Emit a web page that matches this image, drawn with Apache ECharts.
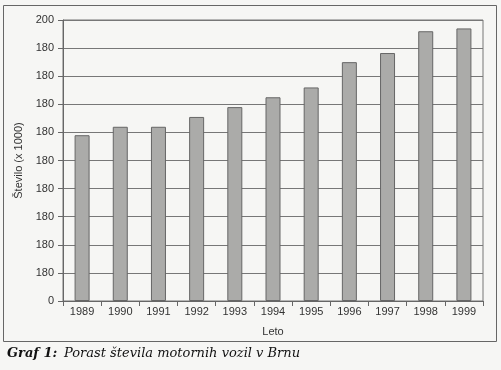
<!DOCTYPE html>
<html><head><meta charset="utf-8">
<script src="https://cdn.jsdelivr.net/npm/echarts@6/dist/echarts.min.js"></script>
<style>html,body{margin:0;padding:0;background:#f6f6f4;}#c{width:501px;height:370px;}</style>
</head><body><div id="c"></div>
<script>
var years = ['1989','1990','1991','1992','1993','1994','1995','1996','1997','1998','1999'];
var vehicles = [118, 124, 124, 131, 138, 145, 152, 170, 176.5, 192, 194];
var yTickLabels = ['0','180','180','180','180','180','180','180','180','180','200'];

var chart = echarts.init(document.getElementById('c'), null, {renderer:'canvas'});
chart.setOption({
  backgroundColor: '#f6f6f4',
  animation: false,
  graphic: [
    {type:'rect', shape:{x:3.5,y:5.5,width:493,height:336}, style:{fill:'none',stroke:'#666',lineWidth:1}, z:-1},
    {type:'text', left:7, top:347, style:{text:'Graf 1:', font:'italic bold 13px "DejaVu Serif"', fill:'#111'}},
    {type:'text', left:64, top:347, style:{text:'Porast števila motornih vozil v Brnu', font:'italic 13px "DejaVu Serif"', fill:'#111'}}
  ],
  grid: {left:63, right:18, top:20, bottom:69, show:true, borderColor:'#777', borderWidth:1, backgroundColor:'transparent'},
  xAxis: {
    type:'category', data: years,
    name:'Leto', nameLocation:'middle', nameGap:25,
    nameTextStyle:{fontFamily:'Liberation Sans', fontSize:11, color:'#333'},
    axisLine:{lineStyle:{color:'#666'}},
    axisTick:{show:true, length:5, lineStyle:{color:'#666'}},
    axisLabel:{fontFamily:'Liberation Sans', fontSize:11, color:'#333', margin:5}
  },
  yAxis: {
    type:'value', min:0, max:200, interval:20,
    name:'Število (x 1000)', nameLocation:'middle', nameGap:38, nameRotate:90,
    nameTextStyle:{fontFamily:'Liberation Sans', fontSize:11, color:'#333'},
    axisLine:{show:true, lineStyle:{color:'#666'}},
    axisTick:{show:true, length:5, lineStyle:{color:'#666'}},
    axisLabel:{fontFamily:'Liberation Sans', fontSize:11, color:'#333', margin:9,
      formatter:function(v){ return yTickLabels[Math.round(v/20)]; }},
    splitLine:{show:true, lineStyle:{color:'#777', width:1}}
  },
  series: [{
    type:'bar', data: vehicles, barWidth:15,
    itemStyle:{color:'#ababa9', borderColor:'#666', borderWidth:1}
  }]
});
</script></body></html>
